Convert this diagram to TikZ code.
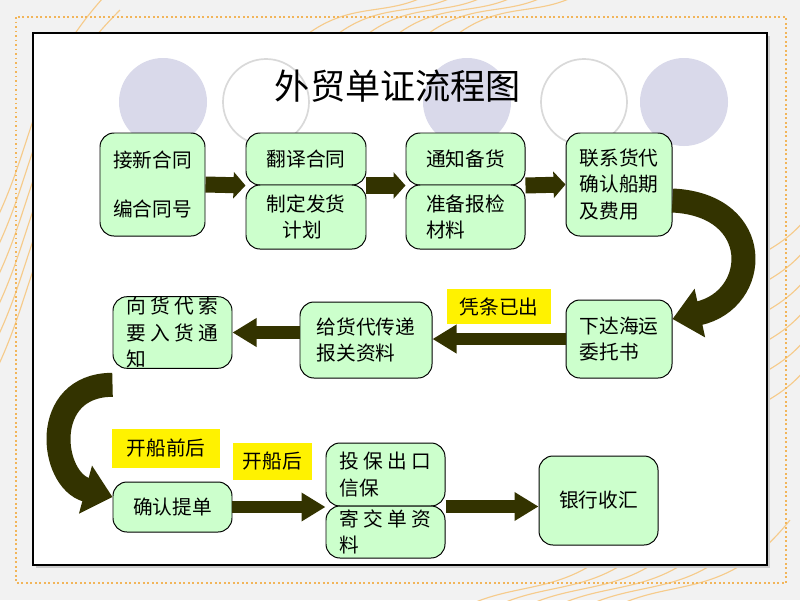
\documentclass[tikz,border=0pt]{standalone}
\usepackage{fontspec}
\setmainfont{Noto Sans CJK SC}
\usetikzlibrary{arrows.meta,calc}
\definecolor{boxg}{HTML}{CCFFCC}
\definecolor{arr}{HTML}{333300}
\definecolor{lav}{HTML}{D9D9EA}
\definecolor{orng}{HTML}{F2B55A}
\begin{document}
\begin{tikzpicture}[x=0.025cm,y=-0.025cm,
  box/.style={draw=black,line width=0.7pt,fill=boxg,rounded corners=0.35cm,inner sep=0pt,align=left,font=\fontsize{14}{19}\selectfont},
  tag/.style={fill=yellow,inner sep=0pt,font=\fontsize{14}{19}\selectfont},
  up/.style={draw=arr,line width=0.4cm,-{Triangle[width=0.65cm,length=0.3cm]}},
  low/.style={draw=arr,line width=0.32cm,-{Triangle[width=0.68cm,length=0.6cm]}},
  curv/.style={draw=arr,line width=0.6cm,-{Triangle[width=1.2cm,length=0.7cm]}}]
\useasboundingbox (0,0) rectangle (800,600);
\fill[gray!10] (0,0) rectangle (800,600);
% background scribbles
\foreach \s in {0,30,60,90,120,150}{
  \draw[orng!70,line width=0.8pt] (-20,250+\s) .. controls (40,150+\s) and (20,80+\s) .. (120,-20+\s);
  \draw[orng!70,line width=0.8pt] (420+\s,640) .. controls (500+\s,560) and (560+\s,620) .. (640+\s,520);
  \draw[orng!70,line width=0.8pt] (700,300+\s) .. controls (760,240+\s) and (790,260+\s) .. (830,180+\s);
  \draw[orng!70,line width=0.8pt] (300+\s,40) .. controls (360+\s,-10) and (400+\s,30) .. (460+\s,-30);
}
\draw[orng,line width=1.2pt,dotted] (16,17) rectangle (786,583);
\fill[gray!40] (36,36) rectangle (770,568);
\draw[black,fill=white,line width=0.8pt] (33,33) rectangle (767,565);
% circles
\fill[lav] (163,102) circle (44);
\draw[gray!30,line width=1.2pt,fill=white] (266,102) circle (43);
\fill[lav] (467,102) circle (44);
\draw[gray!30,line width=1.2pt,fill=white] (584,102) circle (43);
\fill[lav] (684,102) circle (44);
\node[font=\fontsize{25}{28}\selectfont] (title) at (398,86) {外贸单证流程图};
% boxes
\node[box,minimum width=105*0.025cm,minimum height=103*0.025cm] (A) at (152.5,184.5) {接新合同\\[0.55cm]编合同号};
\node[box,minimum width=120*0.025cm,minimum height=52*0.025cm] (B1) at (306,159) {翻译合同};
\node[box,minimum width=120*0.025cm,minimum height=64*0.025cm] (B2) at (306,217) {制定发货\\\hspace{0.4cm}计划};
\node[box,minimum width=119*0.025cm,minimum height=52*0.025cm] (C1) at (465.5,159) {通知备货};
\node[box,minimum width=119*0.025cm,minimum height=64*0.025cm] (C2) at (465.5,217) {准备报检\\材料};
\node[box,minimum width=106*0.025cm,minimum height=103*0.025cm] (D) at (619,184.5) {联系货代\\确认船期\\及费用};
\node[box,minimum width=106*0.025cm,minimum height=78*0.025cm] (E) at (619,339) {下达海运\\委托书};
\node[box,minimum width=132*0.025cm,minimum height=76*0.025cm] (F) at (366,340) {给货代传递\\报关资料};
\node[box,minimum width=119*0.025cm,minimum height=65*0.025cm] (G) at (172.5,332.5) {向 货 代 索\\要 入 货 通\\知};
\node[box,minimum width=119*0.025cm,minimum height=50*0.025cm] (H) at (172.5,507) {确认提单};
\node[box,minimum width=119*0.025cm,minimum height=63*0.025cm] (I1) at (385.5,474.5) {投 保 出 口\\信保};
\node[box,minimum width=119*0.025cm,minimum height=52*0.025cm] (I2) at (385.5,532) {寄 交 单 资\\料};
\node[box,minimum width=119*0.025cm,minimum height=89*0.025cm] (J) at (598.5,500.5) {银行收汇};
% tags
\node[tag,minimum width=104*0.025cm,minimum height=35*0.025cm] (t1) at (499,306.5) {凭条已出};
\node[tag,minimum width=108*0.025cm,minimum height=39*0.025cm] (t2) at (166,448.5) {开船前后};
\node[tag,minimum width=79*0.025cm,minimum height=37*0.025cm] (t3) at (272.5,461.5) {开船后};
% arrows
\draw[up] (A.east) -- (B1.south west);
\draw[up] (B1.south east) -- (C1.south west);
\draw[up] (C1.south east) -- (D.west);
\draw[low] (E.west) -- (E.west -| F.east);
\draw[low] (F.west |- G.east) -- (G.east);
\draw[low] (H.east) -- (H.east -| I1.west);
\draw[low] (I1.south east) -- (I1.south east -| J.west);
\draw[curv] ([yshift=-0.4cm]D.east) .. controls (765,205) and (760,300) .. ([yshift=0.5cm]E.east);
\draw[curv] ([yshift=-0.4cm]G.south west) .. controls (40,385) and (50,480) .. ([yshift=0.25cm]H.west);
\end{tikzpicture}
\end{document}
